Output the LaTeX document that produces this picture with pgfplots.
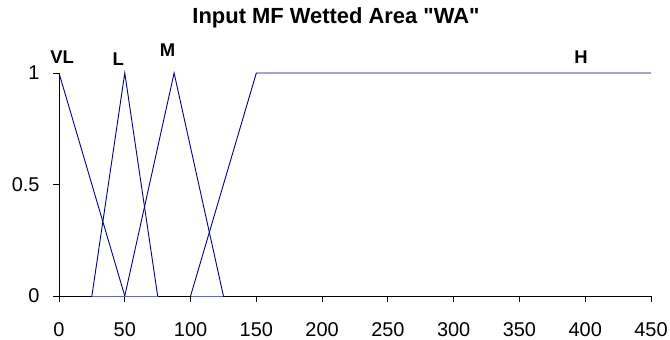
\documentclass[border=0pt]{standalone}
\usepackage{fontspec}
\setmainfont{Liberation Sans}
\newfontfamily\titlefont{Liberation Sans}[Ligatures=TeXOff]
\usepackage{pgfplots}
\pgfplotsset{compat=1.18}
\definecolor{navy}{RGB}{0,0,128}
\begin{document}
\begin{tikzpicture}
\begin{axis}[
  at={(59bp,44bp)}, anchor=south west,
  scale only axis, width=592bp, height=223bp,
  xmin=0, xmax=450, ymin=0, ymax=1,
  axis x line=bottom, axis y line=left,
  axis line style={-, black, line width=0.8pt},
  xtick={0,50,...,450}, ytick={0,0.5,1},
  tick align=outside, major tick length=6bp,
  tick style={black, line width=0.8pt},
  /pgf/number format/assume math mode=true,
  ticklabel style={font=\fontsize{20}{24}\selectfont},
  xticklabel style={yshift=-17bp},
  yticklabel style={/pgf/number format/fixed, xshift=-10bp},
  clip=false,
]
\addplot[navy, line width=0.9pt] coordinates {(0,1) (50,0)};
\addplot[navy, line width=0.9pt] coordinates {(25,0) (50,1) (75,0)};
\addplot[navy, line width=0.9pt] coordinates {(50,0) (87.5,1) (125,0)};
\addplot[navy, line width=0.9pt] coordinates {(100,0) (150,1) (450,1)};
\addplot[navy!60, line width=0.9pt] coordinates {(25,0) (75,0)};
\addplot[navy!60, line width=0.9pt] coordinates {(100,0) (125,0)};
\node[font=\fontsize{18.5}{22}\selectfont\bfseries] at (axis cs:2.3,1.073) {VL};
\node[font=\fontsize{18.5}{22}\selectfont\bfseries] at (axis cs:45.1,1.064) {L};
\node[font=\fontsize{18.5}{22}\selectfont\bfseries] at (axis cs:82.6,1.102) {M};
\node[font=\fontsize{18.5}{22}\selectfont\bfseries] at (axis cs:396.8,1.072) {H};
\end{axis}
\node[font=\titlefont\fontsize{22}{26}\selectfont\bfseries] at (336bp,322bp) {Input MF Wetted Area "WA"};
\pgfresetboundingbox
\path[use as bounding box] (0,0) rectangle (670bp,340bp);
\end{tikzpicture}
\end{document}
